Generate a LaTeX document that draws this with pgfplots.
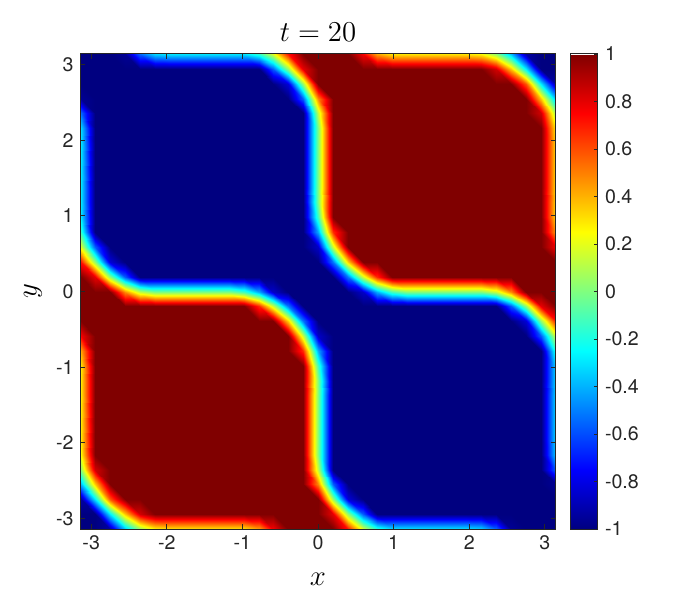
\documentclass[border=0pt]{standalone}
\usepackage[no-math]{fontspec}
\setmainfont{TeX Gyre Heros}
\usepackage{pgfplots}
\pgfplotsset{compat=1.18}
% field values u on a 33x33 grid, i,j = 0..32 <-> x,y = -pi..pi
\pgfplotstableread{
i j u
0 0 -1
1 0 -1
2 0 -0.93
3 0 -0.37
4 0 0.04
5 0 0.26
6 0 0.3
7 0 0.3
8 0 0.3
9 0 0.3
10 0 0.3
11 0 0.3
12 0 0.43
13 0 0.77
14 0 1
15 0 1
16 0 1
17 0 1
18 0 0.71
19 0 0.18
20 0 -0.16
21 0 -0.3
22 0 -0.3
23 0 -0.3
24 0 -0.3
25 0 -0.3
26 0 -0.3
27 0 -0.33
28 0 -0.55
29 0 -0.96
30 0 -1
31 0 -1
32 0 -1
0 1 -1
1 1 -1
2 1 -0.28
3 1 0.36
4 1 0.84
5 1 1
6 1 1
7 1 1
8 1 1
9 1 1
10 1 1
11 1 1
12 1 1
13 1 1
14 1 1
15 1 1
16 1 1
17 1 0.8
18 1 0.04
19 1 -0.57
20 1 -1
21 1 -1
22 1 -1
23 1 -1
24 1 -1
25 1 -1
26 1 -1
27 1 -1
28 1 -1
29 1 -1
30 1 -1
31 1 -1
32 1 -1
0 2 -0.93
1 2 -0.28
2 2 0.59
3 2 1
4 2 1
5 2 1
6 2 1
7 2 1
8 2 1
9 2 1
10 2 1
11 2 1
12 2 1
13 2 1
14 2 1
15 2 1
16 2 1
17 2 0.04
18 2 -0.83
19 2 -1
20 2 -1
21 2 -1
22 2 -1
23 2 -1
24 2 -1
25 2 -1
26 2 -1
27 2 -1
28 2 -1
29 2 -1
30 2 -1
31 2 -1
32 2 -1
0 3 -0.37
1 3 0.36
2 3 1
3 3 1
4 3 1
5 3 1
6 3 1
7 3 1
8 3 1
9 3 1
10 3 1
11 3 1
12 3 1
13 3 1
14 3 1
15 3 1
16 3 0.48
17 3 -0.57
18 3 -1
19 3 -1
20 3 -1
21 3 -1
22 3 -1
23 3 -1
24 3 -1
25 3 -1
26 3 -1
27 3 -1
28 3 -1
29 3 -1
30 3 -1
31 3 -1
32 3 -0.96
0 4 0.04
1 4 0.84
2 4 1
3 4 1
4 4 1
5 4 1
6 4 1
7 4 1
8 4 1
9 4 1
10 4 1
11 4 1
12 4 1
13 4 1
14 4 1
15 4 1
16 4 0.13
17 4 -1
18 4 -1
19 4 -1
20 4 -1
21 4 -1
22 4 -1
23 4 -1
24 4 -1
25 4 -1
26 4 -1
27 4 -1
28 4 -1
29 4 -1
30 4 -1
31 4 -1
32 4 -0.55
0 5 0.26
1 5 1
2 5 1
3 5 1
4 5 1
5 5 1
6 5 1
7 5 1
8 5 1
9 5 1
10 5 1
11 5 1
12 5 1
13 5 1
14 5 1
15 5 1
16 5 0
17 5 -1
18 5 -1
19 5 -1
20 5 -1
21 5 -1
22 5 -1
23 5 -1
24 5 -1
25 5 -1
26 5 -1
27 5 -1
28 5 -1
29 5 -1
30 5 -1
31 5 -1
32 5 -0.33
0 6 0.3
1 6 1
2 6 1
3 6 1
4 6 1
5 6 1
6 6 1
7 6 1
8 6 1
9 6 1
10 6 1
11 6 1
12 6 1
13 6 1
14 6 1
15 6 1
16 6 0
17 6 -1
18 6 -1
19 6 -1
20 6 -1
21 6 -1
22 6 -1
23 6 -1
24 6 -1
25 6 -1
26 6 -1
27 6 -1
28 6 -1
29 6 -1
30 6 -1
31 6 -1
32 6 -0.3
0 7 0.3
1 7 1
2 7 1
3 7 1
4 7 1
5 7 1
6 7 1
7 7 1
8 7 1
9 7 1
10 7 1
11 7 1
12 7 1
13 7 1
14 7 1
15 7 1
16 7 0
17 7 -1
18 7 -1
19 7 -1
20 7 -1
21 7 -1
22 7 -1
23 7 -1
24 7 -1
25 7 -1
26 7 -1
27 7 -1
28 7 -1
29 7 -1
30 7 -1
31 7 -1
32 7 -0.3
0 8 0.3
1 8 1
2 8 1
3 8 1
4 8 1
5 8 1
6 8 1
7 8 1
8 8 1
9 8 1
10 8 1
11 8 1
12 8 1
13 8 1
14 8 1
15 8 1
16 8 0
17 8 -1
18 8 -1
19 8 -1
20 8 -1
21 8 -1
22 8 -1
23 8 -1
24 8 -1
25 8 -1
26 8 -1
27 8 -1
28 8 -1
29 8 -1
30 8 -1
31 8 -1
32 8 -0.3
0 9 0.3
1 9 1
2 9 1
3 9 1
4 9 1
5 9 1
6 9 1
7 9 1
8 9 1
9 9 1
10 9 1
11 9 1
12 9 1
13 9 1
14 9 1
15 9 1
16 9 0
17 9 -1
18 9 -1
19 9 -1
20 9 -1
21 9 -1
22 9 -1
23 9 -1
24 9 -1
25 9 -1
26 9 -1
27 9 -1
28 9 -1
29 9 -1
30 9 -1
31 9 -1
32 9 -0.3
0 10 0.3
1 10 1
2 10 1
3 10 1
4 10 1
5 10 1
6 10 1
7 10 1
8 10 1
9 10 1
10 10 1
11 10 1
12 10 1
13 10 1
14 10 1
15 10 1
16 10 0
17 10 -1
18 10 -1
19 10 -1
20 10 -1
21 10 -1
22 10 -1
23 10 -1
24 10 -1
25 10 -1
26 10 -1
27 10 -1
28 10 -1
29 10 -1
30 10 -1
31 10 -1
32 10 -0.3
0 11 0.3
1 11 1
2 11 1
3 11 1
4 11 1
5 11 1
6 11 1
7 11 1
8 11 1
9 11 1
10 11 1
11 11 1
12 11 1
13 11 1
14 11 1
15 11 1
16 11 -0.12
17 11 -1
18 11 -1
19 11 -1
20 11 -1
21 11 -1
22 11 -1
23 11 -1
24 11 -1
25 11 -1
26 11 -1
27 11 -1
28 11 -1
29 11 -1
30 11 -1
31 11 -1
32 11 -0.3
0 12 0.43
1 12 1
2 12 1
3 12 1
4 12 1
5 12 1
6 12 1
7 12 1
8 12 1
9 12 1
10 12 1
11 12 1
12 12 1
13 12 1
14 12 1
15 12 0.67
16 12 -0.41
17 12 -1
18 12 -1
19 12 -1
20 12 -1
21 12 -1
22 12 -1
23 12 -1
24 12 -1
25 12 -1
26 12 -1
27 12 -1
28 12 -1
29 12 -1
30 12 -1
31 12 -1
32 12 -0.16
0 13 0.77
1 13 1
2 13 1
3 13 1
4 13 1
5 13 1
6 13 1
7 13 1
8 13 1
9 13 1
10 13 1
11 13 1
12 13 1
13 13 1
14 13 1
15 13 0.15
16 13 -0.86
17 13 -1
18 13 -1
19 13 -1
20 13 -1
21 13 -1
22 13 -1
23 13 -1
24 13 -1
25 13 -1
26 13 -1
27 13 -1
28 13 -1
29 13 -1
30 13 -1
31 13 -0.57
32 13 0.18
0 14 1
1 14 1
2 14 1
3 14 1
4 14 1
5 14 1
6 14 1
7 14 1
8 14 1
9 14 1
10 14 1
11 14 1
12 14 1
13 14 1
14 14 0.34
15 14 -0.52
16 14 -1
17 14 -1
18 14 -1
19 14 -1
20 14 -1
21 14 -1
22 14 -1
23 14 -1
24 14 -1
25 14 -1
26 14 -1
27 14 -1
28 14 -1
29 14 -1
30 14 -0.83
31 14 0.04
32 14 0.71
0 15 1
1 15 1
2 15 1
3 15 1
4 15 1
5 15 1
6 15 1
7 15 1
8 15 1
9 15 1
10 15 1
11 15 1
12 15 0.67
13 15 0.15
14 15 -0.52
15 15 -1
16 15 -1
17 15 -1
18 15 -1
19 15 -1
20 15 -1
21 15 -1
22 15 -1
23 15 -1
24 15 -1
25 15 -1
26 15 -1
27 15 -1
28 15 -1
29 15 -0.57
30 15 0.04
31 15 0.8
32 15 1
0 16 1
1 16 1
2 16 1
3 16 0.48
4 16 0.13
5 16 0
6 16 0
7 16 0
8 16 0
9 16 0
10 16 0
11 16 -0.12
12 16 -0.41
13 16 -0.86
14 16 -1
15 16 -1
16 16 -1
17 16 -1
18 16 -1
19 16 -0.86
20 16 -0.41
21 16 -0.12
22 16 0
23 16 0
24 16 0
25 16 0
26 16 0
27 16 0
28 16 0.13
29 16 0.48
30 16 1
31 16 1
32 16 1
0 17 1
1 17 0.8
2 17 0.04
3 17 -0.57
4 17 -1
5 17 -1
6 17 -1
7 17 -1
8 17 -1
9 17 -1
10 17 -1
11 17 -1
12 17 -1
13 17 -1
14 17 -1
15 17 -1
16 17 -1
17 17 -1
18 17 -0.52
19 17 0.15
20 17 0.67
21 17 1
22 17 1
23 17 1
24 17 1
25 17 1
26 17 1
27 17 1
28 17 1
29 17 1
30 17 1
31 17 1
32 17 1
0 18 0.71
1 18 0.04
2 18 -0.83
3 18 -1
4 18 -1
5 18 -1
6 18 -1
7 18 -1
8 18 -1
9 18 -1
10 18 -1
11 18 -1
12 18 -1
13 18 -1
14 18 -1
15 18 -1
16 18 -1
17 18 -0.52
18 18 0.34
19 18 1
20 18 1
21 18 1
22 18 1
23 18 1
24 18 1
25 18 1
26 18 1
27 18 1
28 18 1
29 18 1
30 18 1
31 18 1
32 18 1
0 19 0.18
1 19 -0.57
2 19 -1
3 19 -1
4 19 -1
5 19 -1
6 19 -1
7 19 -1
8 19 -1
9 19 -1
10 19 -1
11 19 -1
12 19 -1
13 19 -1
14 19 -1
15 19 -1
16 19 -0.86
17 19 0.15
18 19 1
19 19 1
20 19 1
21 19 1
22 19 1
23 19 1
24 19 1
25 19 1
26 19 1
27 19 1
28 19 1
29 19 1
30 19 1
31 19 1
32 19 0.77
0 20 -0.16
1 20 -1
2 20 -1
3 20 -1
4 20 -1
5 20 -1
6 20 -1
7 20 -1
8 20 -1
9 20 -1
10 20 -1
11 20 -1
12 20 -1
13 20 -1
14 20 -1
15 20 -1
16 20 -0.41
17 20 0.67
18 20 1
19 20 1
20 20 1
21 20 1
22 20 1
23 20 1
24 20 1
25 20 1
26 20 1
27 20 1
28 20 1
29 20 1
30 20 1
31 20 1
32 20 0.43
0 21 -0.3
1 21 -1
2 21 -1
3 21 -1
4 21 -1
5 21 -1
6 21 -1
7 21 -1
8 21 -1
9 21 -1
10 21 -1
11 21 -1
12 21 -1
13 21 -1
14 21 -1
15 21 -1
16 21 -0.12
17 21 1
18 21 1
19 21 1
20 21 1
21 21 1
22 21 1
23 21 1
24 21 1
25 21 1
26 21 1
27 21 1
28 21 1
29 21 1
30 21 1
31 21 1
32 21 0.3
0 22 -0.3
1 22 -1
2 22 -1
3 22 -1
4 22 -1
5 22 -1
6 22 -1
7 22 -1
8 22 -1
9 22 -1
10 22 -1
11 22 -1
12 22 -1
13 22 -1
14 22 -1
15 22 -1
16 22 0
17 22 1
18 22 1
19 22 1
20 22 1
21 22 1
22 22 1
23 22 1
24 22 1
25 22 1
26 22 1
27 22 1
28 22 1
29 22 1
30 22 1
31 22 1
32 22 0.3
0 23 -0.3
1 23 -1
2 23 -1
3 23 -1
4 23 -1
5 23 -1
6 23 -1
7 23 -1
8 23 -1
9 23 -1
10 23 -1
11 23 -1
12 23 -1
13 23 -1
14 23 -1
15 23 -1
16 23 0
17 23 1
18 23 1
19 23 1
20 23 1
21 23 1
22 23 1
23 23 1
24 23 1
25 23 1
26 23 1
27 23 1
28 23 1
29 23 1
30 23 1
31 23 1
32 23 0.3
0 24 -0.3
1 24 -1
2 24 -1
3 24 -1
4 24 -1
5 24 -1
6 24 -1
7 24 -1
8 24 -1
9 24 -1
10 24 -1
11 24 -1
12 24 -1
13 24 -1
14 24 -1
15 24 -1
16 24 0
17 24 1
18 24 1
19 24 1
20 24 1
21 24 1
22 24 1
23 24 1
24 24 1
25 24 1
26 24 1
27 24 1
28 24 1
29 24 1
30 24 1
31 24 1
32 24 0.3
0 25 -0.3
1 25 -1
2 25 -1
3 25 -1
4 25 -1
5 25 -1
6 25 -1
7 25 -1
8 25 -1
9 25 -1
10 25 -1
11 25 -1
12 25 -1
13 25 -1
14 25 -1
15 25 -1
16 25 0
17 25 1
18 25 1
19 25 1
20 25 1
21 25 1
22 25 1
23 25 1
24 25 1
25 25 1
26 25 1
27 25 1
28 25 1
29 25 1
30 25 1
31 25 1
32 25 0.3
0 26 -0.3
1 26 -1
2 26 -1
3 26 -1
4 26 -1
5 26 -1
6 26 -1
7 26 -1
8 26 -1
9 26 -1
10 26 -1
11 26 -1
12 26 -1
13 26 -1
14 26 -1
15 26 -1
16 26 0
17 26 1
18 26 1
19 26 1
20 26 1
21 26 1
22 26 1
23 26 1
24 26 1
25 26 1
26 26 1
27 26 1
28 26 1
29 26 1
30 26 1
31 26 1
32 26 0.3
0 27 -0.33
1 27 -1
2 27 -1
3 27 -1
4 27 -1
5 27 -1
6 27 -1
7 27 -1
8 27 -1
9 27 -1
10 27 -1
11 27 -1
12 27 -1
13 27 -1
14 27 -1
15 27 -1
16 27 0
17 27 1
18 27 1
19 27 1
20 27 1
21 27 1
22 27 1
23 27 1
24 27 1
25 27 1
26 27 1
27 27 1
28 27 1
29 27 1
30 27 1
31 27 1
32 27 0.26
0 28 -0.55
1 28 -1
2 28 -1
3 28 -1
4 28 -1
5 28 -1
6 28 -1
7 28 -1
8 28 -1
9 28 -1
10 28 -1
11 28 -1
12 28 -1
13 28 -1
14 28 -1
15 28 -1
16 28 0.13
17 28 1
18 28 1
19 28 1
20 28 1
21 28 1
22 28 1
23 28 1
24 28 1
25 28 1
26 28 1
27 28 1
28 28 1
29 28 1
30 28 1
31 28 0.84
32 28 0.04
0 29 -0.96
1 29 -1
2 29 -1
3 29 -1
4 29 -1
5 29 -1
6 29 -1
7 29 -1
8 29 -1
9 29 -1
10 29 -1
11 29 -1
12 29 -1
13 29 -1
14 29 -1
15 29 -0.57
16 29 0.48
17 29 1
18 29 1
19 29 1
20 29 1
21 29 1
22 29 1
23 29 1
24 29 1
25 29 1
26 29 1
27 29 1
28 29 1
29 29 1
30 29 1
31 29 0.36
32 29 -0.37
0 30 -1
1 30 -1
2 30 -1
3 30 -1
4 30 -1
5 30 -1
6 30 -1
7 30 -1
8 30 -1
9 30 -1
10 30 -1
11 30 -1
12 30 -1
13 30 -1
14 30 -0.83
15 30 0.04
16 30 1
17 30 1
18 30 1
19 30 1
20 30 1
21 30 1
22 30 1
23 30 1
24 30 1
25 30 1
26 30 1
27 30 1
28 30 1
29 30 1
30 30 0.59
31 30 -0.28
32 30 -0.93
0 31 -1
1 31 -1
2 31 -1
3 31 -1
4 31 -1
5 31 -1
6 31 -1
7 31 -1
8 31 -1
9 31 -1
10 31 -1
11 31 -1
12 31 -1
13 31 -0.57
14 31 0.04
15 31 0.8
16 31 1
17 31 1
18 31 1
19 31 1
20 31 1
21 31 1
22 31 1
23 31 1
24 31 1
25 31 1
26 31 1
27 31 1
28 31 0.84
29 31 0.36
30 31 -0.28
31 31 -1
32 31 -1
0 32 -1
1 32 -1
2 32 -1
3 32 -0.96
4 32 -0.55
5 32 -0.33
6 32 -0.3
7 32 -0.3
8 32 -0.3
9 32 -0.3
10 32 -0.3
11 32 -0.3
12 32 -0.16
13 32 0.18
14 32 0.71
15 32 1
16 32 1
17 32 1
18 32 1
19 32 0.77
20 32 0.43
21 32 0.3
22 32 0.3
23 32 0.3
24 32 0.3
25 32 0.3
26 32 0.3
27 32 0.26
28 32 0.04
29 32 -0.37
30 32 -0.93
31 32 -1
32 32 -1
}\field

\begin{document}
\begin{tikzpicture}
\path[use as bounding box] (0,0) rectangle (350pt,300pt);
\begin{axis}[
    at={(40.25pt,35.5pt)}, anchor=south west,
    scale only axis, width=237.5pt, height=237.5pt,
    view={0}{90},
    xmin=0, xmax=32, ymin=0, ymax=32,
    enlargelimits=false,
    axis on top,
    colormap/jet,
    point meta min=-1, point meta max=1,
    xtick={0.7211,5.8141,10.9070,16,21.0930,26.1859,31.2789},
    xticklabels={-3,-2,-1,0,1,2,3},
    ytick={0.7211,5.8141,10.9070,16,21.0930,26.1859,31.2789},
    yticklabels={-3,-2,-1,0,1,2,3},
    tick align=inside,
    major tick length=2.5pt,
    tick style={black!85, line width=0.4pt},
    axis line style={black!85, line width=0.5pt},
    tick label style={font=\fontsize{9.8}{11}\selectfont, text=black!85},
    title={$t = 20$},
    title style={at={(axis description cs:0.5,1.002)}, anchor=base, font=\fontsize{15}{18}\selectfont},
    xlabel={$x$},
    xlabel style={at={(axis description cs:0.5,-0.118)}, anchor=base, font=\fontsize{13.5}{16}\selectfont},
    ylabel={$y$},
    ylabel style={at={(axis description cs:-0.1,0.5)}, anchor=center, font=\fontsize{13.5}{16}\selectfont},
    colorbar,
    colorbar style={
        at={(parent axis.north east)}, anchor=north west, xshift=-0.8pt,
        scale only axis, width=13.5pt, height=237.5pt,
        ytick={-1,-0.8,-0.6,-0.4,-0.2,0,0.2,0.4,0.6,0.8,1},
        yticklabels={-1,-0.8,-0.6,-0.4,-0.2,0,0.2,0.4,0.6,0.8,1},
        ytick pos=right,
        tick align=inside,
        major tick length=2pt,
        axis line style={black!85, line width=0.5pt},
        yticklabel style={font=\fontsize{9.8}{11}\selectfont, text=black!85},
    },
]
\addplot3[surf, shader=interp, mesh/cols=33, mesh/rows=33, point meta=\thisrow{u}]
    table[x=i, y=j, z=u] {\field};
\end{axis}
\end{tikzpicture}
\end{document}
